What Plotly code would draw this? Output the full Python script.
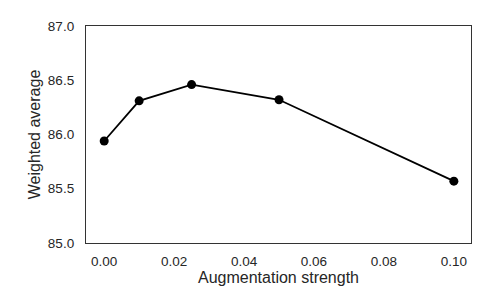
import plotly.graph_objects as go

strength = [0.0, 0.01, 0.025, 0.05, 0.10]
weighted_avg = [85.94, 86.31, 86.46, 86.32, 85.57]
x_ticks = [0.00, 0.02, 0.04, 0.06, 0.08, 0.10]
y_ticks = [85.0, 85.5, 86.0, 86.5, 87.0]

fig = go.Figure()
fig.add_trace(go.Scatter(
    x=strength, y=weighted_avg, mode="lines+markers",
    line=dict(color="black", width=1.8),
    marker=dict(color="black", size=9),
    showlegend=False,
))

font = dict(family="Liberation Sans, Arial, sans-serif", size=13.5, color="#262626")
fig.update_layout(
    width=498, height=308,
    margin=dict(l=86, r=27, t=26, b=65),
    paper_bgcolor="white", plot_bgcolor="white",
    font=font,
    xaxis=dict(
        range=[-0.0052, 0.1049], tickvals=x_ticks,
        ticktext=[f"{v:.2f}" for v in x_ticks],
        showgrid=False, zeroline=False, showline=True, mirror=True,
        linecolor="#333333", linewidth=1.3, ticks="", ticklen=0,
        ticklabelstandoff=6, automargin=False,
        title=dict(text="Augmentation strength", standoff=3),
    ),
    yaxis=dict(
        range=[85.0, 87.0], tickvals=y_ticks,
        ticktext=[f"{v:.1f}" for v in y_ticks],
        showgrid=False, zeroline=False, showline=True, mirror=True,
        linecolor="#333333", linewidth=1.3, ticks="", ticklen=0,
        ticklabelstandoff=8, automargin=False,
        title=dict(text="Weighted average", standoff=3),
    ),
)
fig.write_html("out.html", config={"displayModeBar": False},
               post_script="document.body.style.margin='0';")
